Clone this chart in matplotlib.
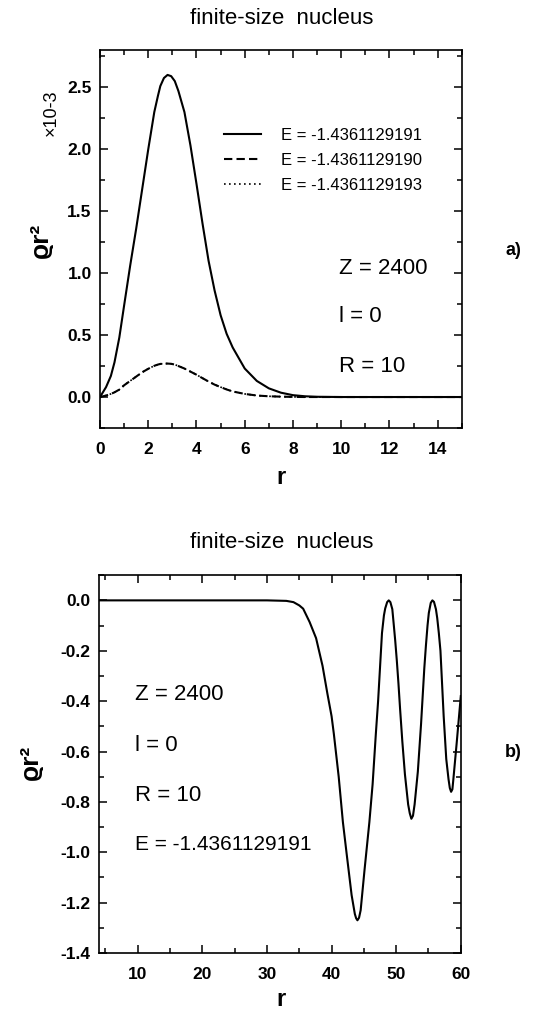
import matplotlib
matplotlib.use("Agg")
import matplotlib.pyplot as plt
from matplotlib.ticker import MultipleLocator, FormatStrFormatter

plt.rcParams['font.family'] = ['Liberation Sans', 'DejaVu Sans']
plt.rcParams['axes.unicode_minus'] = False

# panel a) density x 10^-3, finite-size nucleus, three energies
r_a = [0, 0.25, 0.45, 0.6, 0.8, 1.0, 1.25, 1.5, 1.75, 2.0, 2.25, 2.4, 2.5, 2.65, 2.8,
       2.95, 3.1, 3.25, 3.5, 3.75, 4.0, 4.25, 4.5, 4.75, 5.0, 5.25, 5.5, 6.0, 6.5, 7.0, 7.5,
       8.0, 8.5, 9.0, 10.0, 15.0]
rho_191 = [0, 0.08, 0.17, 0.28, 0.48, 0.74, 1.06, 1.36, 1.68, 2.0, 2.3, 2.43, 2.51, 2.575, 2.6,
           2.59, 2.55, 2.47, 2.3, 2.03, 1.72, 1.4, 1.1, 0.86, 0.66, 0.51, 0.4, 0.23, 0.13, 0.07, 0.035,
           0.015, 0.006, 0.002, 0, 0]
rho_190 = [0, 0.012, 0.025, 0.038, 0.06, 0.095, 0.13, 0.165, 0.2, 0.228, 0.252, 0.262, 0.267, 0.27, 0.27,
           0.268, 0.262, 0.25, 0.23, 0.205, 0.18, 0.152, 0.125, 0.1, 0.08, 0.061, 0.045, 0.025, 0.012, 0.006, 0.003,
           0.001, 0, 0, 0, 0]
rho_193 = [0, 0.012, 0.025, 0.038, 0.06, 0.095, 0.13, 0.165, 0.2, 0.228, 0.252, 0.262, 0.267, 0.27, 0.27,
           0.268, 0.262, 0.25, 0.23, 0.205, 0.18, 0.152, 0.125, 0.1, 0.08, 0.061, 0.045, 0.025, 0.012, 0.006, 0.003,
           0.001, 0, 0, 0, 0]
labels_a = ['E = -1.4361129191', 'E = -1.4361129190', 'E = -1.4361129193']

# panel b) E = -1.4361129191 out to r = 60
r_b = [4, 30, 33, 34.1, 35, 35.6, 36.6, 37.6, 38.6, 39.35, 40, 40.35, 41.1, 41.75,
       42.35, 43.1, 43.6, 43.8, 44.0, 44.25, 44.5, 45.1, 45.85, 46.35, 46.85, 47.2,
       47.6, 47.8, 48.1, 48.3, 48.6, 48.85, 49.1, 49.4, 49.6, 49.85, 50.1, 50.35, 50.6,
       50.95, 51.35, 51.85, 52.1, 52.35, 52.6, 52.85, 53.35, 53.85, 54.35, 54.6, 54.85, 55.05,
       55.35, 55.6, 55.85, 56.15, 56.35, 56.6, 56.85, 57.35, 57.75, 58.1, 58.3, 58.5,
       58.7, 58.85, 59.35, 60]
rho_b = [0, 0, -0.002, -0.007, -0.02, -0.033, -0.086, -0.15, -0.26, -0.37, -0.46, -0.53,
         -0.70, -0.88, -1.01, -1.17, -1.245, -1.262, -1.27, -1.26, -1.23, -1.07, -0.88,
         -0.73, -0.53, -0.40, -0.22, -0.13, -0.06, -0.032, -0.007, 0, -0.007, -0.035,
         -0.09, -0.16, -0.24, -0.33, -0.43, -0.56, -0.69, -0.81, -0.845, -0.867, -0.855, -0.81,
         -0.68, -0.49, -0.27, -0.18, -0.1, -0.05, -0.01, 0, -0.006, -0.035, -0.07,
         -0.13, -0.2, -0.46, -0.63, -0.71, -0.745, -0.76, -0.75, -0.71, -0.57, -0.38]

fig = plt.figure(figsize=(5.36, 10.13), dpi=100)
ax1 = fig.add_axes([0.1866, 0.5775, 0.675, 0.373])
ax2 = fig.add_axes([0.1847, 0.0592, 0.675, 0.373])

lw = 1.5
ax1.plot(r_a, rho_193, color='black', lw=1.2, linestyle=(0, (1, 2)), label=labels_a[2])
ax1.plot(r_a, rho_190, color='black', lw=lw, linestyle=(0, (4, 2)), label=labels_a[1])
ax1.plot(r_a, rho_191, color='black', lw=lw, label=labels_a[0])
ax1.set_xlim(0, 15)
ax1.set_ylim(-0.25, 2.8)
ax1.xaxis.set_major_locator(MultipleLocator(2))
ax1.xaxis.set_minor_locator(MultipleLocator(1))
ax1.yaxis.set_major_locator(MultipleLocator(0.5))
ax1.yaxis.set_minor_locator(MultipleLocator(0.25))
ax1.yaxis.set_major_formatter(FormatStrFormatter('%.1f'))

h, l = ax1.get_legend_handles_labels()
leg = ax1.legend(h[::-1], l[::-1], loc='upper left', bbox_to_anchor=(0.31, 0.826),
                 frameon=False, fontsize=12, handlelength=2.2, handletextpad=1.2,
                 labelspacing=0.6, borderpad=0.2)

for txt, yy in [('Z = 2400', 0.423), ('l = 0', 0.294), ('R = 10', 0.164)]:
    ax1.text(0.66, yy, txt, transform=ax1.transAxes, fontsize=16, va='center', ha='left')

ax2.plot(r_b, rho_b, color='black', lw=lw)
ax2.set_xlim(4, 60)
ax2.set_ylim(-1.4, 0.1)
ax2.xaxis.set_major_locator(MultipleLocator(10))
ax2.xaxis.set_minor_locator(MultipleLocator(5))
ax2.yaxis.set_major_locator(MultipleLocator(0.2))
ax2.yaxis.set_minor_locator(MultipleLocator(0.1))
ax2.yaxis.set_major_formatter(FormatStrFormatter('%.1f'))

for txt, yy, fs in [('Z = 2400', 0.683, 16), ('l = 0', 0.55, 16), ('R = 10', 0.418, 16),
                    ('E = -1.4361129191', 0.286, 15)]:
    ax2.text(0.1, yy, txt, transform=ax2.transAxes, fontsize=fs, va='center', ha='left')

for ax in (ax1, ax2):
    ax.tick_params(which='both', direction='in', top=True, right=True, width=1.1,
                   labelsize=12.5)
    ax.tick_params(axis='x', pad=10)
    ax.tick_params(axis='y', pad=6)
    ax.tick_params(which='major', length=6)
    ax.tick_params(which='minor', length=3.5)
    for lab in ax.get_xticklabels() + ax.get_yticklabels():
        lab.set_fontweight('bold')
    for s in ax.spines.values():
        s.set_linewidth(1.2)

# titles, axis labels and panel marks
fig.text(0.525, 0.982, 'finite-size  nucleus', fontsize=16, ha='center', va='center')
fig.text(0.525, 0.464, 'finite-size  nucleus', fontsize=16, ha='center', va='center')
fig.text(0.076, 0.763, 'ϱr²', fontsize=19, fontweight='bold', rotation=90, ha='center', va='center')
fig.text(0.057, 0.247, 'ϱr²', fontsize=19, fontweight='bold', rotation=90, ha='center', va='center')
fig.text(0.095, 0.889, '×10-3', fontsize=13, rotation=90, ha='center', va='center')
fig.text(0.524, 0.529, 'r', fontsize=17, fontweight='bold', ha='center', va='center')
fig.text(0.524, 0.013, 'r', fontsize=17, fontweight='bold', ha='center', va='center')
fig.text(0.957, 0.753, 'a)', fontsize=13, fontweight='bold', ha='center', va='center')
fig.text(0.957, 0.257, 'b)', fontsize=13, fontweight='bold', ha='center', va='center')

fig.savefig('out.png', dpi=100)
